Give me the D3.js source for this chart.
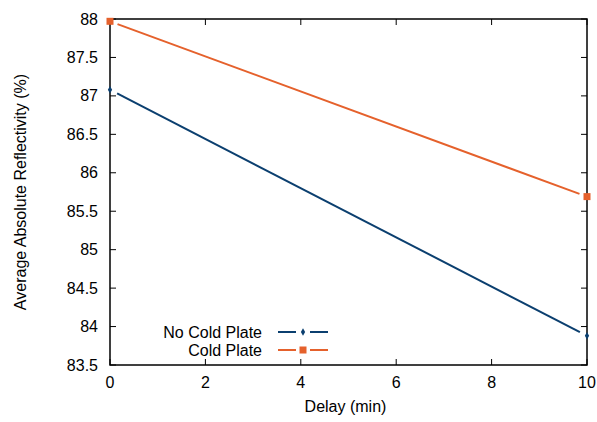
<!DOCTYPE html>
<html>
<head>
<meta charset="utf-8">
<script src="https://cdn.jsdelivr.net/npm/d3@7"></script>
<style>
  body { margin: 0; background: #fff; }
  text { font-family: 'Liberation Sans', Arial, sans-serif; }
</style>
</head>
<body>
<div id="chart"></div>
<script>
const delays = [0, 10];
const noColdPlate = [87.08, 83.88];
const coldPlate = [87.97, 85.69];
const xTicks = [0, 2, 4, 6, 8, 10];
const yTicks = [83.5, 84, 84.5, 85, 85.5, 86, 86.5, 87, 87.5, 88];

const width = 597;
const height = 422;
const margin = { top: 19, right: 10, bottom: 57, left: 110 };

const BLUE = '#0b3f6f';
const ORANGE = '#e5612c';

const svg = d3.select('#chart').append('svg').attr('width', width).attr('height', height);

const x = d3.scaleLinear().domain([0, 10]).range([margin.left, width - margin.right]);
const y = d3.scaleLinear().domain([83.5, 88]).range([height - margin.bottom, margin.top]);

const tickLen = 6;
const axisG = svg.append('g');

// y ticks (left and mirrored right), pointing inward
yTicks.forEach((t) => {
  axisG.append('line').attr('x1', x(0)).attr('x2', x(0) + tickLen).attr('y1', y(t)).attr('y2', y(t)).attr('stroke', '#000').attr('stroke-width', 1);
  axisG.append('line').attr('x1', x(10)).attr('x2', x(10) - tickLen).attr('y1', y(t)).attr('y2', y(t)).attr('stroke', '#000').attr('stroke-width', 1);
  axisG
    .append('text')
    .attr('x', x(0) - 12)
    .attr('y', y(t))
    .attr('dy', '0.35em')
    .attr('text-anchor', 'end')
    .style('font-size', '16px')
    .text(d3.format('')(t));
});

// x ticks (bottom and mirrored top)
xTicks.forEach((t) => {
  axisG.append('line').attr('x1', x(t)).attr('x2', x(t)).attr('y1', y(83.5)).attr('y2', y(83.5) - tickLen).attr('stroke', '#000').attr('stroke-width', 1);
  axisG.append('line').attr('x1', x(t)).attr('x2', x(t)).attr('y1', y(88)).attr('y2', y(88) + tickLen).attr('stroke', '#000').attr('stroke-width', 1);
  axisG
    .append('text')
    .attr('x', x(t))
    .attr('y', y(83.5) + 23)
    .attr('text-anchor', 'middle')
    .style('font-size', '16px')
    .text(t);
});

// frame
svg
  .append('rect')
  .attr('x', x(0))
  .attr('y', y(88))
  .attr('width', x(10) - x(0))
  .attr('height', y(83.5) - y(88))
  .attr('fill', 'none')
  .attr('stroke', '#000')
  .attr('stroke-width', 1.5);

// axis titles
svg
  .append('text')
  .attr('transform', `translate(26, ${(y(88) + y(83.5)) / 2}) rotate(-90)`)
  .attr('text-anchor', 'middle')
  .style('font-size', '16px')
  .text('Average Absolute Reflectivity (%)');

svg
  .append('text')
  .attr('x', (x(0) + x(10)) / 2 - 3)
  .attr('y', 412)
  .attr('text-anchor', 'middle')
  .style('font-size', '16px')
  .text('Delay (min)');

// gap around points, like gnuplot linespoints
const GAP = 8;
const drawSeries = (values, color, marker) => {
  const pts = delays.map((d, i) => [x(d), y(values[i])]);
  for (let i = 0; i < pts.length - 1; i++) {
    const [x1, y1] = pts[i];
    const [x2, y2] = pts[i + 1];
    const len = Math.hypot(x2 - x1, y2 - y1);
    const ux = (x2 - x1) / len;
    const uy = (y2 - y1) / len;
    svg
      .append('line')
      .attr('x1', x1 + ux * GAP)
      .attr('y1', y1 + uy * GAP)
      .attr('x2', x2 - ux * GAP)
      .attr('y2', y2 - uy * GAP)
      .attr('stroke', color)
      .attr('stroke-width', 2);
  }
  pts.forEach(([px, py]) => marker(svg, px, py, color));
};

const diamond = (g, px, py, color) => {
  g.append('path')
    .attr('d', d3.symbol().type(d3.symbolDiamond).size(16)())
    .attr('transform', `translate(${px},${py})`)
    .attr('fill', color);
};
const square = (g, px, py, color) => {
  g.append('rect')
    .attr('x', px - 3.5)
    .attr('y', py - 3.5)
    .attr('width', 7)
    .attr('height', 7)
    .attr('fill', color);
};

drawSeries(noColdPlate, BLUE, diamond);
drawSeries(coldPlate, ORANGE, square);

// legend
const legend = [
  { label: 'No Cold Plate', color: BLUE, marker: diamond, y: 332 },
  { label: 'Cold Plate', color: ORANGE, marker: square, y: 350 },
];
legend.forEach((l) => {
  svg
    .append('text')
    .attr('x', 262)
    .attr('y', l.y)
    .attr('dy', '0.35em')
    .attr('text-anchor', 'end')
    .style('font-size', '16px')
    .text(l.label);
  svg.append('line').attr('x1', 278).attr('x2', 296).attr('y1', l.y).attr('y2', l.y).attr('stroke', l.color).attr('stroke-width', 2);
  svg.append('line').attr('x1', 310).attr('x2', 328).attr('y1', l.y).attr('y2', l.y).attr('stroke', l.color).attr('stroke-width', 2);
  l.marker(svg, 303, l.y, l.color);
});
</script>
</body>
</html>
